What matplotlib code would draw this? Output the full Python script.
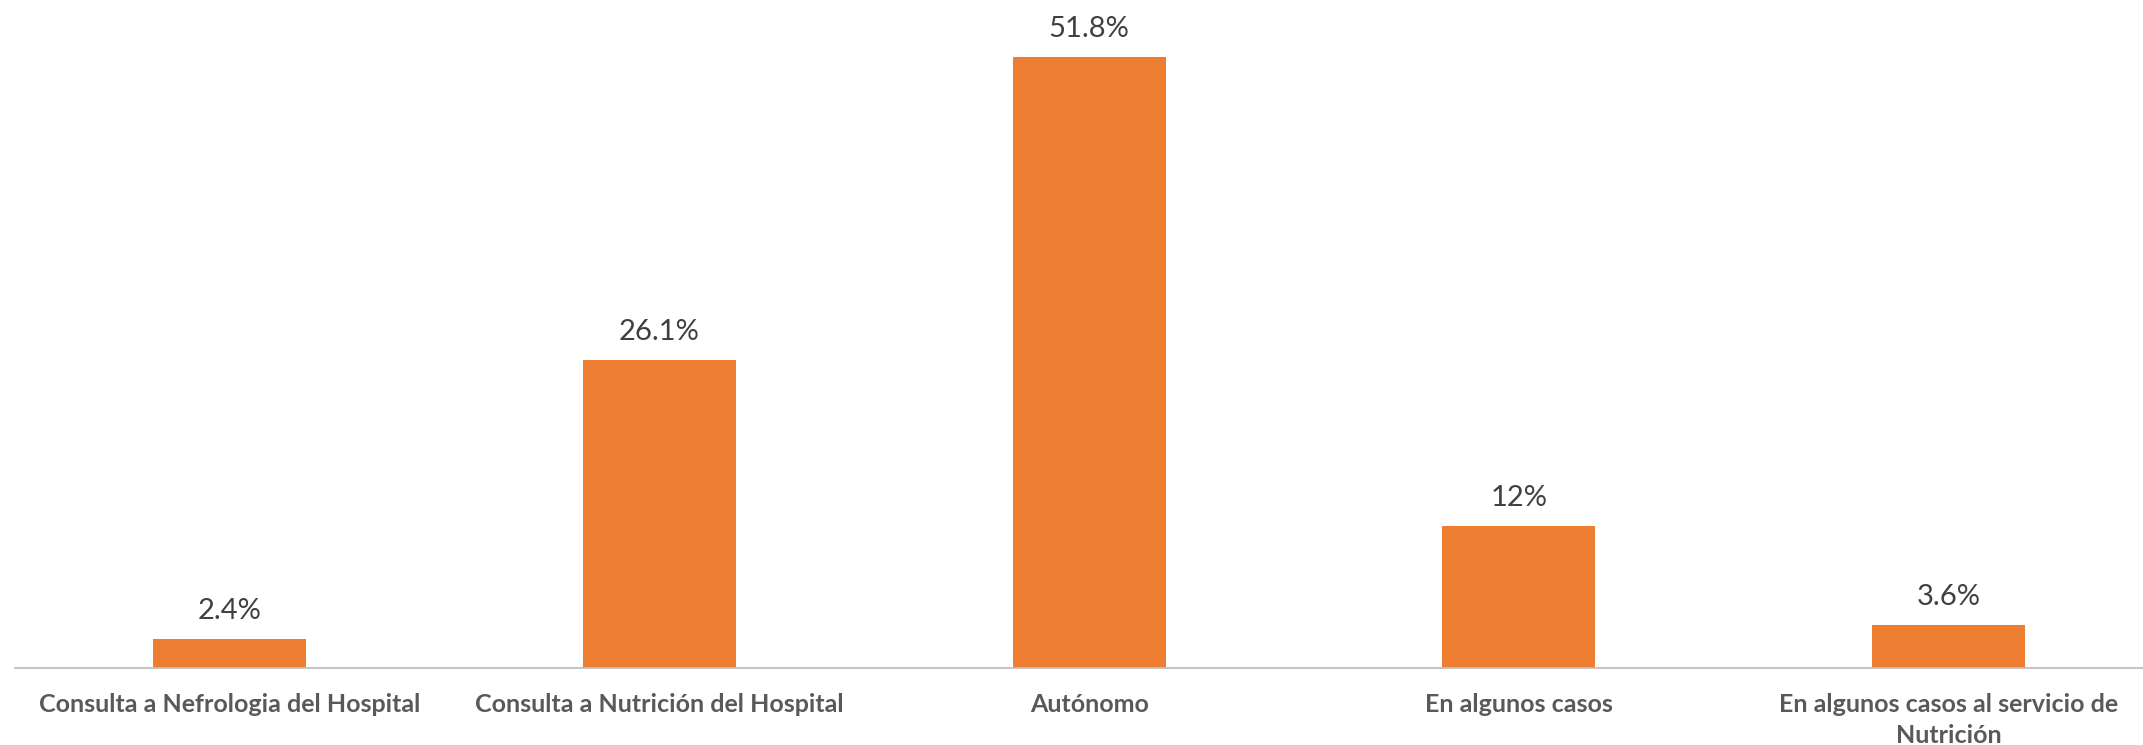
import matplotlib.pyplot as plt
import numpy as np

plt.rcParams['font.family'] = ['Lato', 'DejaVu Sans']

categories = ["Consulta a Nefrologia del Hospital",
              "Consulta a Nutrición del Hospital",
              "Autónomo",
              "En algunos casos",
              "En algunos casos al servicio de\nNutrición"]
values = [2.4, 26.1, 51.8, 12, 3.6]
labels = ["2.4%", "26.1%", "51.8%", "12%", "3.6%"]

W, H = 2143, 745
fig = plt.figure(figsize=(W / 100, H / 100), dpi=100)
# plot area: baseline at y=667.7px, categories 429.75px apart
ax = fig.add_axes([14.6 / W, (H - 667.7) / H, 2149 / W, 667.7 / H])

x = np.arange(len(categories))
bars = ax.bar(x, values, width=0.356, color="#ED7D31", zorder=2)

for b, lab in zip(bars, labels):
    ax.annotate(lab, (b.get_x() + b.get_width() / 2, b.get_height()),
                xytext=(0, 14.4), textcoords="offset points",
                ha="center", va="baseline", fontsize=21, color="#404040")

ax.set_xlim(-0.5, len(categories) - 0.5)
ax.set_ylim(0, 56.68)
ax.set_xticks(x)
ax.set_xticklabels(categories, fontsize=18, fontweight="bold", color="#595959",
                   linespacing=1.4)
ax.tick_params(axis="x", length=0, pad=18.5)
ax.set_yticks([])

for s in ["top", "right", "left"]:
    ax.spines[s].set_visible(False)
ax.spines["bottom"].set_color("#BFBFBF")
ax.spines["bottom"].set_linewidth(1.3)

fig.savefig("out.png", dpi=100)
